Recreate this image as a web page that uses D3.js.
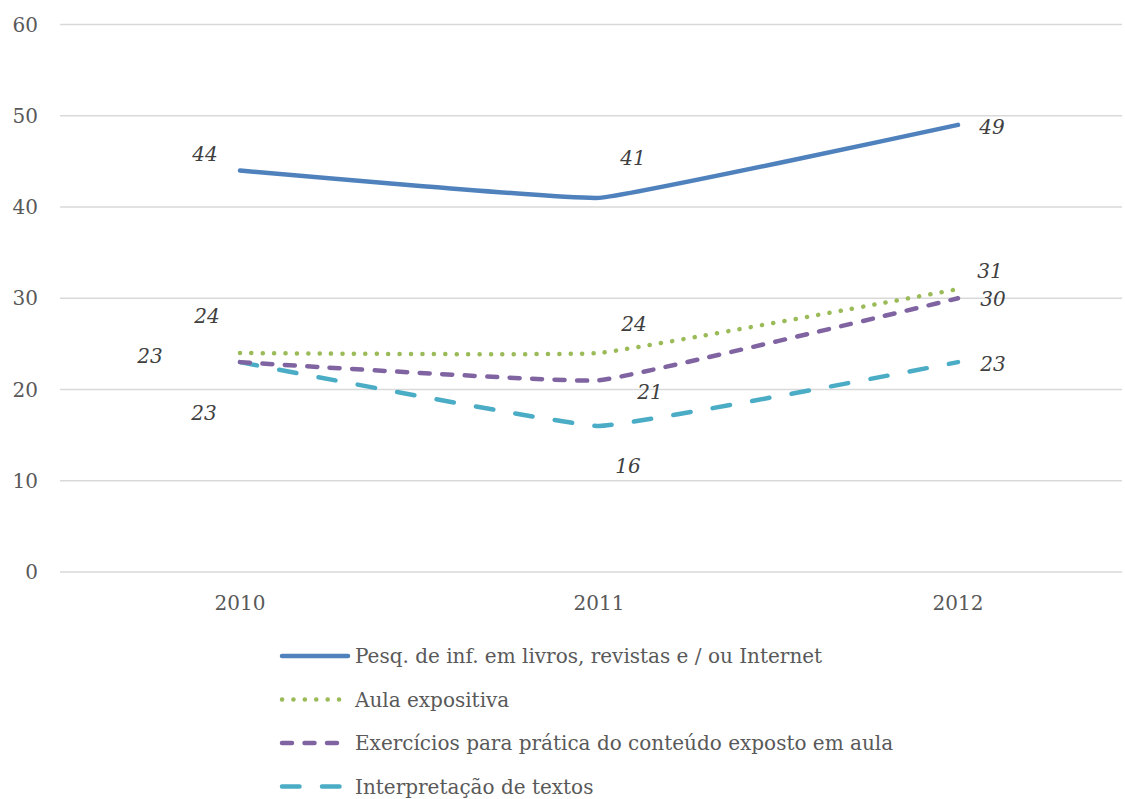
<!DOCTYPE html>
<html>
<head>
<meta charset="utf-8">
<script src="https://cdn.jsdelivr.net/npm/d3@7"></script>
<style>
  body { margin: 0; background: #fff; }
  text { font-family: "DejaVu Serif", "Liberation Serif", serif; }
</style>
</head>
<body>
<div id="chart"></div>
<script>
// chart data
const years = ["2010", "2011", "2012"]
const yTicks = [0, 10, 20, 30, 40, 50, 60]
const seriesNames = [
    "Pesq. de inf. em livros, revistas e / ou Internet",
    "Aula expositiva",
    "Exercícios para prática do conteúdo exposto em aula",
    "Interpretação de textos"
]
const pesquisa = [44, 41, 49]
const aula = [24, 24, 31]
const exercicios = [23, 21, 30]
const interpretacao = [23, 16, 23]

// styling per series (kept apart from the values)
const styles = [
    {color: "#4F81BD", dash: null},
    {color: "#9BBB59", dash: "0.1,11.3"},
    {color: "#8064A2", dash: "10,12.5"},
    {color: "#4BACC6", dash: "17.5,22.5"}
]
// where each data label sits relative to its point
const labelOffsets = [
    [[-35, -17], [34, -40], [34, 2]],
    [[-33, -37], [35, -29], [32, -18]],
    [[-90, -6], [51, 12], [35, 1]],
    [[-36, 51], [29, 40], [35, 2]]
]

const seriesValues = [pesquisa, aula, exercicios, interpretacao]
const series = seriesNames.map(function (name, i) {
    return {name: name, values: seriesValues[i], style: styles[i], offsets: labelOffsets[i]}
})

const width = 1125, height = 799
const svg = d3.select("#chart").append("svg")
    .attr("width", width)
    .attr("height", height)

const x = d3.scalePoint()
    .domain(years)
    .range([240, 958])

const y = d3.scaleLinear()
    .domain([0, 60])
    .range([572, 24.5])

// gridlines
svg.append("g")
    .selectAll("line")
    .data(yTicks)
    .enter().append("line")
    .attr("x1", 60)
    .attr("x2", 1122)
    .attr("y1", d => y(d))
    .attr("y2", d => y(d))
    .style("stroke", "#d9d9d9")
    .style("stroke-width", 1.5)

// y axis labels
svg.append("g")
    .selectAll("text")
    .data(yTicks)
    .enter().append("text")
    .attr("x", 38)
    .attr("y", d => y(d))
    .attr("dy", "0.35em")
    .style("text-anchor", "end")
    .style("font-size", "20px")
    .style("fill", "#595959")
    .text(d => d)

// x axis labels
svg.append("g")
    .selectAll("text")
    .data(years)
    .enter().append("text")
    .attr("x", d => x(d))
    .attr("y", 603)
    .attr("dy", "0.35em")
    .style("text-anchor", "middle")
    .style("font-size", "20px")
    .style("fill", "#595959")
    .text(d => d)

const line = d3.line()
    .x((d, i) => x(years[i]))
    .y(d => y(d))
    .curve(d3.curveCardinal.tension(0.75))

// draw in reverse so the first series ends on top
const lines = svg.append("g")
lines.selectAll("path")
    .data(series.slice().reverse())
    .enter().append("path")
    .attr("d", d => line(d.values))
    .style("fill", "none")
    .style("stroke", d => d.style.color)
    .style("stroke-width", 4.5)
    .style("stroke-linecap", "round")
    .style("stroke-linejoin", "round")
    .style("stroke-dasharray", d => d.style.dash)

// data labels
series.forEach(function (s) {
    svg.append("g")
        .selectAll("text")
        .data(s.values)
        .enter().append("text")
        .attr("x", (d, i) => x(years[i]) + s.offsets[i][0])
        .attr("y", (d, i) => y(d) + s.offsets[i][1])
        .attr("dy", "0.35em")
        .style("text-anchor", "middle")
        .style("font-size", "20px")
        .style("font-style", "italic")
        .style("fill", "#404040")
        .text(d => d)
})

// legend
const legend = svg.append("g")
    .selectAll(".legends")
    .data(series)
    .enter().append("g")
    .attr("class", "legends")
    .attr("transform", (d, i) => "translate(280," + (656 + i * 43.5) + ")")

legend.append("line")
    .attr("x1", 2)
    .attr("x2", 68)
    .style("stroke", d => d.style.color)
    .style("stroke-width", 4.5)
    .style("stroke-linecap", "round")
    .style("stroke-dasharray", d => d.style.dash)

legend.append("text")
    .attr("x", 75)
    .attr("y", 0)
    .attr("dy", "0.35em")
    .style("font-size", "20px")
    .style("fill", "#595959")
    .text(d => d.name)
</script>
</body>
</html>
